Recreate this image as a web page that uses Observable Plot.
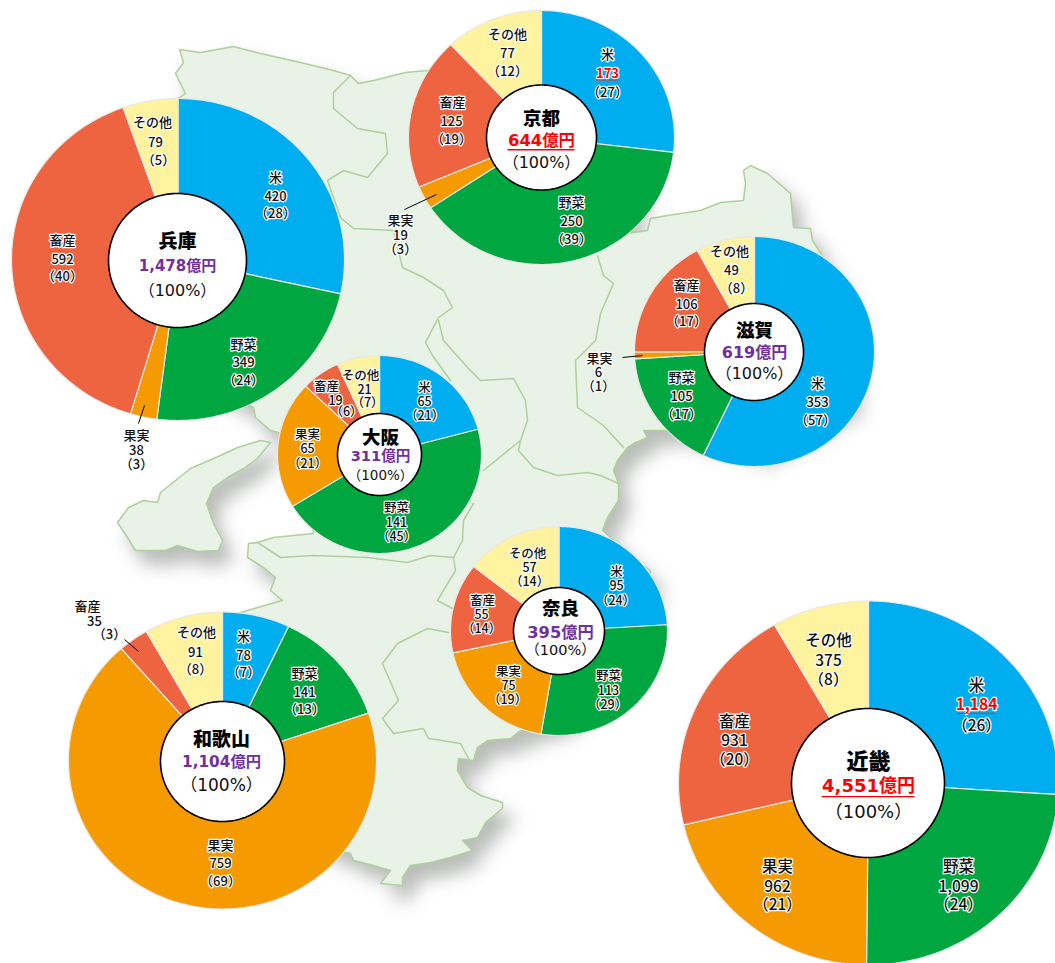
<!DOCTYPE html>
<html lang="ja">
<head>
<meta charset="utf-8">
<script src="https://cdn.jsdelivr.net/npm/d3@7"></script>
<script src="https://cdn.jsdelivr.net/npm/@observablehq/plot@0.6"></script>
<style>
html,body{margin:0;padding:0;background:#fff;overflow:hidden}
svg{display:block}
</style>
</head>
<body>
<div id="chart"></div>
<script>
// ---------- data ----------
const categories = ["米", "野菜", "果実", "畜産", "その他"];
const regions = ["兵庫", "京都", "滋賀", "大阪", "奈良", "和歌山", "近畿"];
const totals = ["1,478億円", "644億円", "619億円", "311億円", "395億円", "1,104億円", "4,551億円"];
const rice = [420, 173, 353, 65, 95, 78, 1184];
const vegetables = [349, 250, 105, 141, 113, 141, 1099];
const fruit = [38, 19, 6, 65, 75, 759, 962];
const livestock = [592, 125, 106, 19, 55, 35, 931];
const other = [79, 77, 49, 21, 57, 91, 375];
const ricePct = [28, 27, 57, 21, 24, 7, 26];
const vegetablesPct = [24, 39, 17, 45, 29, 13, 24];
const fruitPct = [3, 3, 1, 21, 19, 69, 21];
const livestockPct = [40, 19, 17, 6, 14, 3, 20];
const otherPct = [5, 12, 8, 7, 14, 8, 8];
const redValues = ["173", "1,184"];

// ---------- style ----------
const sliceColors = ["#00aeef", "#00a63f", "#f59a00", "#ee6340", "#fff3a0"];
const RED = "#ff0000", PURPLE = "#7030a0";

// ---------- layout (pie frames, text anchors, leaders) ----------
const frames = [
  {cx: 177.5, cy: 259, rx: 166.5, ry: 161, irx: 69, iry: 67, ic: [177, 260]},
  {cx: 541, cy: 137, rx: 133, ry: 127, irx: 55, iry: 52.5, ic: [541, 137]},
  {cx: 754, cy: 351, rx: 120, ry: 115, irx: 49.5, iry: 48.5, ic: [753.5, 351.5]},
  {cx: 379, cy: 454, rx: 102, ry: 99, irx: 42, iry: 41, ic: [379, 454]},
  {cx: 558.5, cy: 630.5, rx: 108.5, ry: 104.5, irx: 45.5, iry: 43.5, ic: [558.5, 630.5]},
  {cx: 222, cy: 760, rx: 154, ry: 148.5, irx: 62, iry: 60, ic: [222, 761]},
  {cx: 868, cy: 782.5, rx: 190, ry: 182, irx: 76.5, iry: 74.5, ic: [867.5, 782.5]}
];
const centerText = [
  {size: [19, 15, 16], y: [241, 266, 290], x: 177},
  {size: [18.5, 16.4, 16], y: [119, 140, 162], x: 541},
  {size: [18.5, 16, 16], y: [331, 352, 373], x: 754},
  {size: [18.5, 14.6, 13.5], y: [438, 456, 475], x: 380},
  {size: [18.5, 16.3, 14.5], y: [609, 632, 650], x: 560},
  {size: [19, 15.3, 17], y: [739, 762, 785], x: 221},
  {size: [22, 18, 18], y: [761, 786, 812], x: 868}
];
const labelSize = [13, 13, 13, 12.5, 12.5, 13, 15.5];
// per region, per category: name x,y, value x,y, percent x,y
const labelAnchors = [
  [[275,177,275,196,275,213],[243,344,243,362,243,380],[136,435,136,450,136,464],[62,240,62,259,62,276],[152,122,155,142,158,160]],
  [[607,54,607,73,607,92],[571,202,571,221,571,239],[400,220,400,235,400,249],[452,102,451,121,451,139],[507,34,507,53,507,71]],
  [[817,383,817,402,815,420],[681,377,681,396,681,414],[599,358,598,372,598,386],[686,285,686,304,686,321],[729,251,731,270,736,288]],
  [[424,387,424,401,424,415],[396,507,396,522,396,536],[307,434,307,448,307,463],[326,386,335,400,346,411],[360,375,364,389,367,402]],
  [[616,571,616,585,615,600],[608,675,608,690,607,704],[508,671,508,685,507,699],[482,600,481,614,481,628],[527,553,529,567,529,581]],
  [[243,636,243,655,243,672],[304,673,304,692,304,709],[220,845,220,863,220,881],[87,606,94,621,109,634],[196,632,195,652,195,669]],
  [[976,686,976,705,976,726],[958,867,958,887,958,905],[777,867,777,887,777,905],[734,722,734,741,734,760],[828,641,828,661,828,680]]
];
const leaders = [
  {x1: 436, y1: 194, x2: 404, y2: 209},
  {x1: 144, y1: 405, x2: 138, y2: 423},
  {x1: 642, y1: 355, x2: 622, y2: 357},
  {x1: 138, y1: 651, x2: 124, y2: 639}
];
// traced background map
const mainland = [[179,49],[200,52],[233,46],[260,53],[300,62],[333,70],[350,75],[358,83],[373,80],[405,72],[427,70],[480,100],[600,100],[640,180],[627,233],[647,230],[650,218],[667,215],[700,210],[720,202],[743,200],[745,183],[743,170],[750,165],[767,173],[790,193],[793,227],[810,228],[812,240],[850,300],[850,400],[760,450],[690,430],[667,430],[643,430],[647,437],[633,443],[627,447],[617,460],[613,470],[618,483],[618,500],[607,517],[602,530],[640,563],[650,570],[648,585],[640,650],[560,720],[520,730],[510,738],[487,740],[477,747],[473,760],[458,758],[457,770],[467,787],[480,795],[502,802],[502,808],[485,822],[477,837],[462,840],[472,850],[450,857],[430,862],[410,865],[402,877],[402,885],[380,883],[390,870],[373,865],[353,860],[350,853],[335,850],[240,800],[230,700],[240,612],[257,607],[282,600],[270,590],[275,577],[263,567],[247,557],[248,543],[257,542],[273,537],[313,533],[310,470],[278,432],[270,430],[255,417],[253,407],[200,380],[100,300],[100,150],[185,93],[175,73],[183,62]];
const awaji = [[270,442],[260,440],[237,447],[220,455],[190,468],[160,492],[157,502],[143,500],[128,507],[117,522],[127,537],[135,550],[165,550],[177,545],[197,551],[218,550],[222,540],[213,523],[206,503],[213,487],[227,477],[243,468],[257,458]];
const borders = [
  [[350,75],[333,92],[333,108],[357,128],[385,133],[387,153],[367,177],[343,170],[327,180],[340,217],[353,228],[393,230],[402,267],[423,277],[443,290],[452,307],[438,317]],
  [[438,317],[425,342],[432,355],[450,380]],
  [[438,320],[443,340],[467,367],[480,380],[513,378],[525,400],[527,420],[520,440],[518,450],[533,467],[557,475],[587,472],[600,475],[618,483]],
  [[597,255],[603,275],[613,283],[600,313],[595,340],[575,360],[577,407],[603,425],[623,447]],
  [[520,440],[483,470]],
  [[473,503],[463,520],[462,540],[453,557],[455,570],[437,600],[452,608]],
  [[257,542],[280,557],[313,555],[367,557],[407,562],[430,555],[453,557]],
  [[448,632],[427,628],[397,643],[382,663],[398,700],[382,718],[393,733],[423,728],[428,738],[460,743],[468,758]]
];

// ---------- derived tables ----------
const seriesValues = [rice, vegetables, fruit, livestock, other];
const seriesPct = [ricePct, vegetablesPct, fruitPct, livestockPct, otherPct];
const pie = d3.pie().sort(null).startAngle(0).endAngle(2 * Math.PI);
const ellipsePoint = (f, a) => ({x: f.cx + f.rx * Math.sin(a), y: f.cy - f.ry * Math.cos(a)});

const slicePts = [], holePts = [], labels = [], redLabels = [], titles = [], amounts = [], hundred = [], underlines = [], redUnderlines = [];
regions.forEach((name, r) => {
  const f = frames[r];
  const arcs = pie(seriesValues.map((s) => s[r]));
  arcs.forEach((arc, c) => {
    const id = name + c;
    const steps = Math.max(2, Math.ceil((arc.endAngle - arc.startAngle) / 0.015));
    const pts = [{x: f.cx, y: f.cy}];
    for (let i = 0; i <= steps; ++i) pts.push(ellipsePoint(f, arc.startAngle + (arc.endAngle - arc.startAngle) * i / steps));
    pts.push({x: f.cx, y: f.cy});
    pts.forEach((p) => slicePts.push({...p, id, color: sliceColors[c]}));
    const a = labelAnchors[r][c];
    const val = d3.format(",")(seriesValues[c][r]);
    const size = labelSize[r];
    labels.push({x: a[0], y: a[1], t: categories[c], size});
    (redValues.includes(val) ? redLabels : labels).push({x: a[2], y: a[3], t: val, size});
    labels.push({x: a[4], y: a[5], t: "（" + seriesPct[c][r] + "）", size});
    if (redValues.includes(val)) {
      const w = val.length === 3 ? 11 : 19;
      redUnderlines.push({x1: a[2] - w, x2: a[2] + w, y: a[3] + size * 0.5});
    }
  });
  const ic = {cx: f.ic[0], cy: f.ic[1], rx: f.irx, ry: f.iry};
  for (let i = 0; i <= 180; ++i) holePts.push({...ellipsePoint(ic, i / 180 * 2 * Math.PI), id: name});
  const t = centerText[r];
  const isRed = name === "京都" || name === "近畿";
  titles.push({x: t.x, y: t.y[0], t: name, size: t.size[0]});
  amounts.push({x: t.x, y: t.y[1], t: totals[r], size: t.size[1], color: isRed ? RED : PURPLE});
  hundred.push({x: t.x, y: t.y[2], t: "（100%）", size: t.size[2]});
  if (isRed) {
    const w = (totals[r].length === 5 ? 3 * 0.696 + 2 : 4 * 0.696 + 0.38 + 2) * t.size[1] / 2;
    underlines.push({x1: t.x - w, x2: t.x + w, y: t.y[1] + t.size[1] * 0.56});
  }
});
const toPts = (rings) => rings.flatMap((ring, i) => ring.map(([x, y]) => ({x, y, id: i})));
const landPts = toPts([[...mainland, mainland[0]], [...awaji, awaji[0]]]);
const borderPts = toPts(borders);

const FONT = "'Noto Sans CJK JP','Noto Sans',sans-serif";
const WIDE = "'DejaVu Sans','Noto Sans CJK JP',sans-serif";
const plot = Plot.plot({
  width: 1055,
  height: 963,
  margin: 0,
  x: {domain: [0, 1055], range: [0, 1055], axis: null},
  y: {domain: [0, 963], range: [0, 963], axis: null},
  color: {type: "identity"},
  style: {fontFamily: FONT, background: "#fff", overflow: "hidden"},
  marks: [
    Plot.line(landPts, {x: "x", y: "y", z: "id", fill: "#e8f2e6", stroke: "#aed09c", strokeWidth: 1.5, imageFilter: "drop-shadow(10px 14px 9px rgba(60,70,60,0.36))"}),
    Plot.line(borderPts, {x: "x", y: "y", z: "id", stroke: "#aed09c", strokeWidth: 1.5}),
    Plot.line(slicePts, {x: "x", y: "y", z: "id", fill: "color", stroke: "#e8e8e8", strokeWidth: 1.2}),
    Plot.line(holePts, {x: "x", y: "y", z: "id", fill: "#fff", stroke: "#000", strokeWidth: 1.6}),
    Plot.link(leaders, {x1: "x1", y1: "y1", x2: "x2", y2: "y2", stroke: "#000", strokeWidth: 1}),
    Plot.text(labels, {x: "x", y: "y", text: "t", fontSize: "size", fontWeight: 500, fill: "#111", stroke: "#fff", strokeWidth: 2.4, paintOrder: "stroke"}),
    Plot.text(redLabels, {x: "x", y: "y", text: "t", fontSize: "size", fontWeight: 700, fill: RED, stroke: "#fff", strokeWidth: 2.4, paintOrder: "stroke"}),
    Plot.text(titles, {x: "x", y: "y", text: "t", fontSize: "size", fontWeight: 900, fill: "#000"}),
    Plot.text(amounts, {x: "x", y: "y", text: "t", fontSize: "size", fontWeight: 700, fontFamily: WIDE, fill: "color"}),
    Plot.text(hundred, {x: "x", y: "y", text: "t", fontSize: "size", fontFamily: WIDE, fill: "#111"}),
    Plot.ruleY(underlines, {y: "y", x1: "x1", x2: "x2", stroke: RED, strokeWidth: 1.4}),
    Plot.ruleY(redUnderlines, {y: "y", x1: "x1", x2: "x2", stroke: "#d03040", strokeWidth: 1})
  ]
});
document.getElementById("chart").append(plot);
</script>
</body>
</html>
